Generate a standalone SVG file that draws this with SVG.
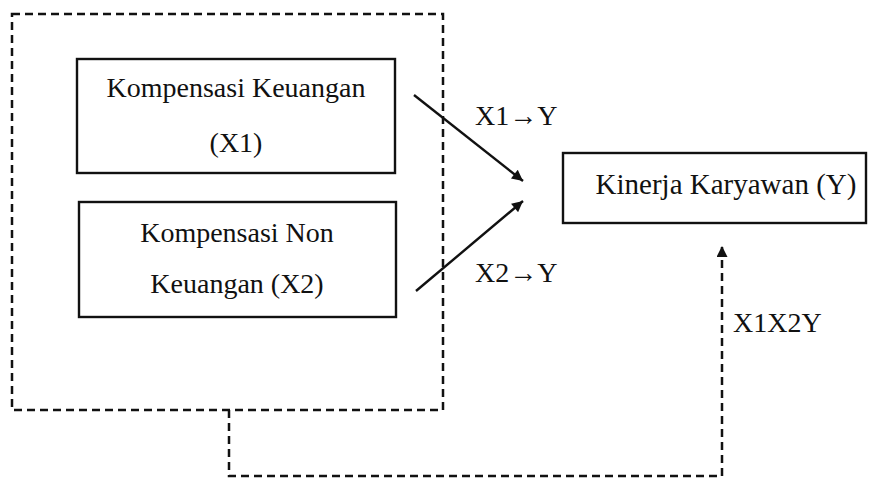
<svg xmlns="http://www.w3.org/2000/svg" width="871" height="480" viewBox="0 0 871 480">
<style>
text{font-family:"Liberation Serif","Times New Roman",serif;font-size:28px;fill:#111;}
.box{fill:none;stroke:#111;stroke-width:2.4;}
.dash{fill:none;stroke:#111;stroke-width:2.5;stroke-dasharray:8 5;}
.line{fill:none;stroke:#111;stroke-width:2.4;}
</style>
<defs>
<marker id="ah" viewBox="0 0 10 10" refX="10" refY="5" markerWidth="15" markerHeight="11" markerUnits="userSpaceOnUse" orient="auto">
<path d="M0,0 L10,5 L0,10 z" fill="#111"/>
</marker>
</defs>
<rect width="871" height="480" fill="#fff"/>
<g id="group-outer">
<rect x="12" y="14" width="431" height="396" class="dash"/>
</g>
<g id="node-x1">
<rect x="77" y="59" width="318" height="114" class="box"/>
<text x="236" y="97" text-anchor="middle">Kompensasi Keuangan</text>
<text x="236" y="152" text-anchor="middle">(X1)</text>
</g>
<g id="node-x2">
<rect x="79" y="202" width="317" height="115" class="box"/>
<text x="237" y="242" text-anchor="middle">Kompensasi Non</text>
<text x="237" y="293" text-anchor="middle">Keuangan (X2)</text>
</g>
<g id="node-y">
<rect x="563" y="153" width="303" height="70" class="box"/>
<text x="726" y="194" text-anchor="middle" style="font-size:29px">Kinerja Karyawan (Y)</text>
</g>
<g id="connectors">
<line x1="414" y1="95" x2="523" y2="181" class="line" marker-end="url(#ah)"/>
<line x1="416" y1="291" x2="523" y2="201" class="line" marker-end="url(#ah)"/>
<polyline points="229,410 229,476 722,476 722,246" class="dash" marker-end="url(#ah)"/>
<text x="475" y="125">X1→Y</text>
<text x="475" y="282">X2→Y</text>
<text x="733" y="332">X1X2Y</text>
</g>
</svg>
